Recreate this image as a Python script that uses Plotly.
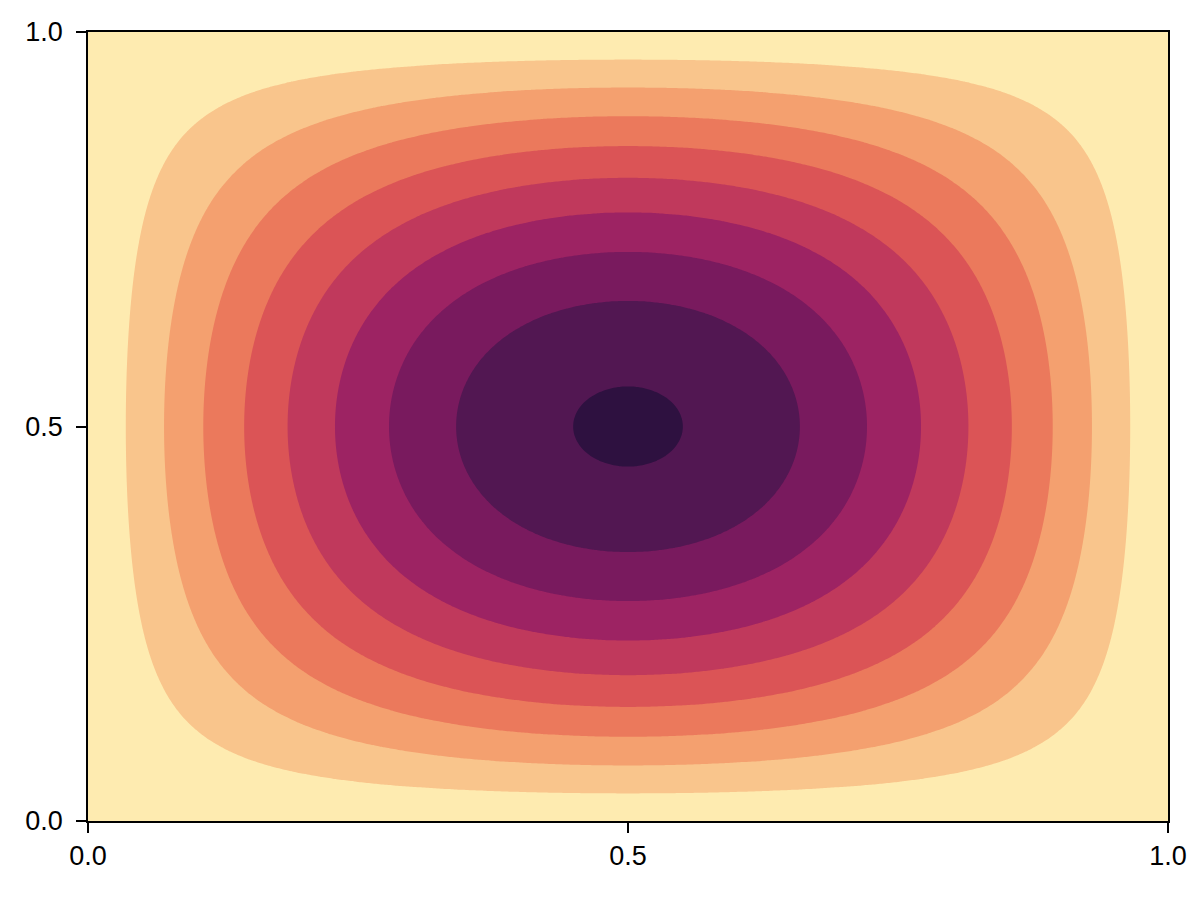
import numpy as np
import plotly.graph_objects as go

# Field: z = sin(pi x) sin(pi y) on the unit square
nx, ny = 301, 301
x = np.linspace(0.0, 1.0, nx)
y = np.linspace(0.0, 1.0, ny)
X, Y = np.meshgrid(x, y)
Z = np.sin(np.pi * X) * np.sin(np.pi * Y)

level_step = 0.1097
n_bands = 10
band_colors = ["#FEEBB0", "#F9C58C", "#F4A06F", "#EB795C", "#DB5456",
               "#C0395C", "#9D2363", "#791A5E", "#521752", "#2E1140"]
tick_vals = [0.0, 0.5, 1.0]
tick_text = ["0.0", "0.5", "1.0"]

colorscale = []
for i, c in enumerate(band_colors):
    colorscale.append([i / n_bands, c])
    colorscale.append([(i + 1) / n_bands, c])

fig = go.Figure(go.Contour(
    x=x, y=y, z=Z,
    zmin=0.0, zmax=level_step * n_bands, zauto=False,
    autocontour=False,
    contours=dict(start=level_step, end=level_step * (n_bands - 1) + 1e-6,
                  size=level_step, coloring="fill", showlines=False),
    line=dict(width=0),
    colorscale=colorscale,
    showscale=False,
    hoverinfo="skip",
))

axis_common = dict(
    range=[0, 1], tickvals=tick_vals, ticktext=tick_text,
    ticks="outside", ticklen=10, tickwidth=1.5, tickcolor="black",
    showline=True, linecolor="black", linewidth=1.5, mirror=True,
    showgrid=False, zeroline=False,
    tickfont=dict(family="Liberation Sans, Arial, sans-serif", size=27, color="black"),
)

fig.update_layout(
    width=1200, height=900,
    margin=dict(l=80, r=40, t=24, b=87, autoexpand=False),
    paper_bgcolor="white", plot_bgcolor="white",
    xaxis=dict(**axis_common),
    yaxis=dict(**axis_common, ticklabelstandoff=8),
)

fig.write_html("out.html")
